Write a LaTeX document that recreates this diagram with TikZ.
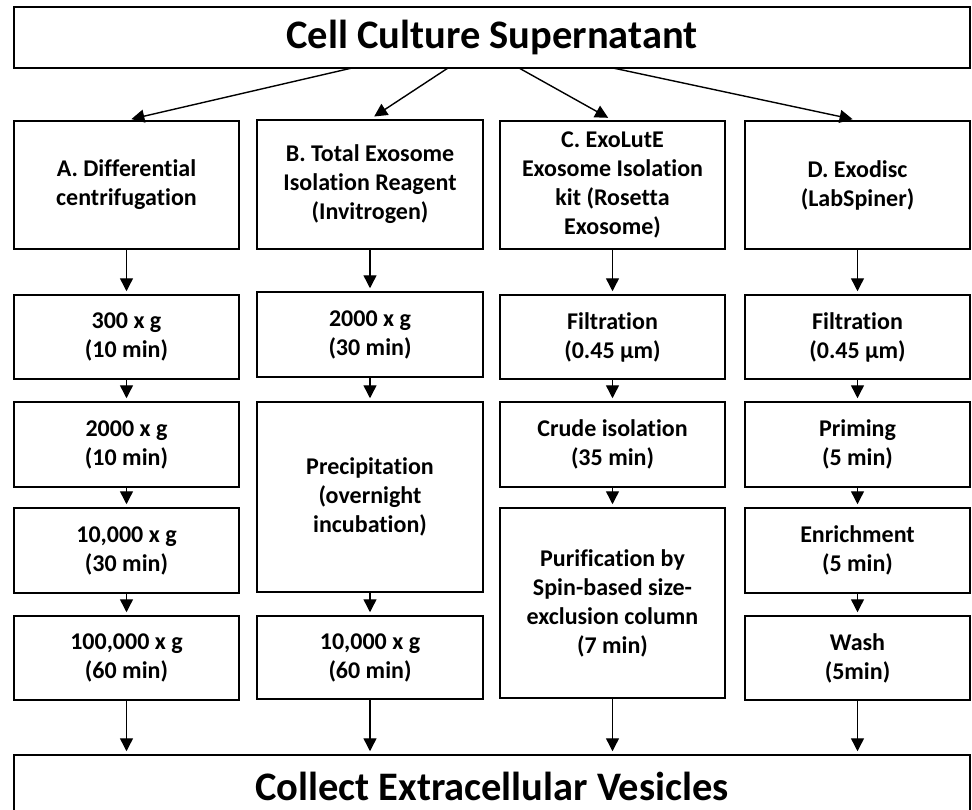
\documentclass[tikz,border=0pt]{standalone}
\usepackage{fontspec}
\setmainfont{Carlito}[Ligatures=NoCommon]
\usetikzlibrary{arrows.meta}
\tikzset{
  box/.style={draw, line width=1.5pt, align=center, inner sep=0pt,
    font=\fontsize{24}{29}\selectfont\bfseries},
  bigbox/.style={draw, line width=1.5pt, align=center, inner sep=0pt,
    font=\fontsize{40.5}{48}\selectfont\bfseries},
  arr/.style={line width=1.4pt, -{Triangle[length=13pt,width=13pt]}, shorten >=3pt}
}
\begin{document}
\begin{tikzpicture}[x=1pt,y=-1pt]
\clip (0,0) rectangle (972,809);
\useasboundingbox (0,0) rectangle (972,809);
% top
\node[bigbox, minimum width=956pt, minimum height=61pt] (top) at (492,37.5) {Cell Culture Supernatant};
% row 1
\node[box, minimum width=225pt, minimum height=128pt] (A1) at (126.5,185) {A. Differential\\centrifugation};
\node[box, minimum width=226pt, minimum height=129pt] (B1) at (370,184.5) {B. Total Exosome\\Isolation Reagent\\(Invitrogen)};
\node[box, minimum width=225pt, minimum height=128pt] (C1) at (612.5,185) {C. ExoLutE\\Exosome Isolation\\kit (Rosetta\\Exosome)};
\node[box, minimum width=225pt, minimum height=128pt] (D1) at (857.5,185) {D. Exodisc\\(LabSpiner)};
% row 2
\node[box, minimum width=225pt, minimum height=84pt] (A2) at (126.5,337) {300 x g\\(10 min)};
\node[box, minimum width=226pt, minimum height=85pt] (B2) at (370,334.5) {2000 x g\\(30 min)};
\node[box, minimum width=225pt, minimum height=84pt] (C2) at (612.5,337) {Filtration\\(0.45 µm)};
\node[box, minimum width=225pt, minimum height=84pt] (D2) at (857.5,337) {Filtration\\(0.45 µm)};
% row 3
\node[box, minimum width=225pt, minimum height=85pt] (A3) at (126.5,444.5) {2000 x g\\(10 min)};
\node[box, minimum width=226pt, minimum height=190pt] (B3) at (370,497) {Precipitation\\(overnight\\incubation)};
\node[box, minimum width=225pt, minimum height=85pt] (C3) at (612.5,444.5) {Crude isolation\\(35 min)};
\node[box, minimum width=225pt, minimum height=85pt] (D3) at (857.5,444.5) {Priming\\(5 min)};
% row 4
\node[box, minimum width=225pt, minimum height=85pt] (A4) at (126.5,550.5) {10,000 x g\\(30 min)};
\node[box, minimum width=225pt, minimum height=190pt] (C4) at (612.5,603) {Purification by\\Spin-based size-\\exclusion column\\(7 min)};
\node[box, minimum width=225pt, minimum height=85pt] (D4) at (857.5,550.5) {Enrichment\\(5 min)};
% row 5
\node[box, minimum width=225pt, minimum height=84pt] (A5) at (126.5,658) {100,000 x g\\(60 min)};
\node[box, minimum width=226pt, minimum height=83pt] (B5) at (370,657.5) {10,000 x g\\(60 min)};
\node[box, minimum width=225pt, minimum height=84pt] (D5) at (857.5,658) {Wash\\(5min)};
% bottom
\node[bigbox, minimum width=956pt, minimum height=62pt] (bot) at (492,786) {Collect Extracellular Vesicles};
% top arrows
\coordinate (t1) at (352,68);
\coordinate (t2) at (448,68);
\coordinate (t3) at (519,68);
\coordinate (t4) at (613,68);
\draw[arr, shorten >=5pt] (t1) -- (A1.north);
\draw[arr, shorten >=5pt] (t2) -- (B1.north);
\draw[arr, shorten >=5pt] (t3) -- (C1.north);
\draw[arr, shorten >=5pt] (t4) -- (D1.north);
% column arrows
\draw[arr] (A1) -- (A2);
\draw[arr] (A2) -- (A3);
\draw[arr] (A3) -- (A4);
\draw[arr] (A4) -- (A5);
\draw[arr] (B1) -- (B2);
\draw[arr] (B2) -- (B3);
\draw[arr] (B3) -- (B5);
\draw[arr] (C1) -- (C2);
\draw[arr] (C2) -- (C3);
\draw[arr] (C3) -- (C4);
\draw[arr] (D1) -- (D2);
\draw[arr] (D2) -- (D3);
\draw[arr] (D3) -- (D4);
\draw[arr] (D4) -- (D5);
% to bottom
\draw[arr] (A5.south) -- (A5.south |- bot.north);
\draw[arr] (B5.south) -- (B5.south |- bot.north);
\draw[arr] (C4.south) -- (C4.south |- bot.north);
\draw[arr] (D5.south) -- (D5.south |- bot.north);
\end{tikzpicture}
\end{document}
